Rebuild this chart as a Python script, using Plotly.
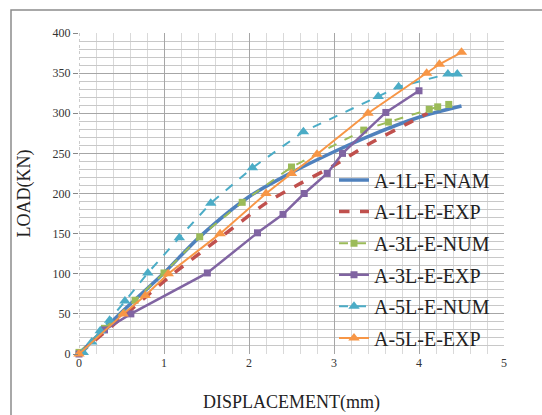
import plotly.graph_objects as go

# ---- data ----
nam1_x = [0, 0.5, 1.0, 1.42, 2.0, 2.5, 3.0, 3.4, 4.0, 4.5]
nam1_y = [0, 52, 101, 146, 196, 226, 252, 271, 295, 309]

exp1_x = [0, 0.5, 1.05, 1.7, 2.2, 2.56, 3.0, 3.4, 3.9, 4.1]
exp1_y = [0, 45, 95, 148, 188, 210, 235, 261, 289, 300]

num3_x = [0, 0.3, 0.66, 1.0, 1.42, 1.92, 2.5, 3.35, 3.64, 4.12, 4.22, 4.35]
num3_y = [2, 32, 67, 101, 146, 189, 233, 279, 289, 305, 308, 311]

exp3_x = [0, 0.3, 0.61, 1.51, 2.1, 2.4, 2.65, 2.92, 3.1, 3.61, 4.0]
exp3_y = [0, 30, 50, 101, 151, 174, 200, 225, 250, 301, 328]

num5_x = [0.05, 0.15, 0.25, 0.36, 0.54, 0.81, 1.18, 1.55, 2.04, 2.64, 3.52, 3.76, 4.34, 4.45]
num5_y = [2, 15, 29, 42, 66, 101, 145, 188, 232, 277, 321, 333, 349, 349]

exp5_x = [0, 0.52, 0.78, 1.05, 1.66, 2.2, 2.5, 2.8, 3.4, 4.09, 4.24, 4.5]
exp5_y = [0, 50, 73, 100, 150, 200, 225, 249, 300, 350, 361, 376]

names = ["A-1L-E-NAM", "A-1L-E-EXP", "A-3L-E-NUM", "A-3L-E-EXP", "A-5L-E-NUM", "A-5L-E-EXP"]

y_tickvals = [0, 50, 100, 150, 200, 250, 300, 350, 400]
y_ticktext = ["0", "50", "100", "150", "200", "250", "300", "350", "400"]
x_tickvals = [0, 1, 2, 3, 4, 5]
x_ticktext = ["0", "1", "2", "3", "4", "5"]

# ---- figure ----
fig = go.Figure()

def add(x, y, name, color, width, dash, symbol=None, msize=0, shape="linear"):
    mode = "lines+markers" if symbol else "lines"
    fig.add_trace(go.Scatter(
        x=x, y=y, name=name, mode=mode, legendgroup=name,
        line=dict(color=color, width=width, dash=dash, shape=shape, smoothing=0.8),
        marker=dict(symbol=symbol or "circle", size=msize, color=color),
        cliponaxis=False,
    ))

add(nam1_x, nam1_y, names[0], "#4F81BD", 3.5, "solid", shape="spline")
add(exp1_x, exp1_y, names[1], "#C0504D", 3.5, "dash", shape="spline")
add(num3_x, num3_y, names[2], "#9BBB59", 2, "dash", "square", 7)
add(exp3_x, exp3_y, names[3], "#8064A2", 2.5, "solid", "square", 7)
add(num5_x, num5_y, names[4], "#4BACC6", 2, "dash", "triangle-up", 10)
add(exp5_x, exp5_y, names[5], "#F79646", 2, "solid", "triangle-up", 10)

serif = "Liberation Serif"

fig.update_layout(
    width=542, height=415,
    margin=dict(l=79, r=38, t=33, b=61),
    paper_bgcolor="white", plot_bgcolor="white",
    showlegend=True,
    legend=dict(
        x=0.6, y=0.603, xanchor="left", yanchor="top",
        bgcolor="rgba(0,0,0,0)",
        font=dict(family=serif, size=20, color="#222222"),
        tracegroupgap=2.6,
        traceorder="grouped",
    ),
    xaxis=dict(
        range=[0, 5], tickvals=x_tickvals, ticktext=x_ticktext,
        showgrid=True, gridcolor="#a6a6a6", gridwidth=1,
        minor=dict(dtick=0.2, showgrid=True, gridcolor="#d9d9d9", gridwidth=1),
        zeroline=False, showline=False, ticks="", automargin=False,
        tickfont=dict(family=serif, size=12, color="#333333"),
        title=dict(text="DISPLACEMENT(mm)", font=dict(family=serif, size=18, color="#222222"),
                   standoff=26),
    ),
    yaxis=dict(
        range=[0, 400], tickvals=y_tickvals, ticktext=y_ticktext,
        showgrid=True, gridcolor="#a6a6a6", gridwidth=1,
        minor=dict(dtick=10, showgrid=True, gridcolor="#c8c8c8", gridwidth=1),
        zeroline=False, showline=False, automargin=False,
        ticks="outside", ticklen=5, tickcolor="#888888",
        tickfont=dict(family=serif, size=12, color="#333333"),
        title=dict(text="LOAD(KN)", font=dict(family=serif, size=18, color="#222222"),
                   standoff=17),
    ),
)

# dotted vertical axis line at x = 0
fig.add_shape(type="line", xref="x", yref="paper", x0=0, x1=0, y0=0, y1=1,
              line=dict(color="#9a9a9a", width=1, dash="dot"), layer="below")

# outer chart frame
fig.add_shape(type="rect", xref="paper", yref="paper",
              x0=-68/425, x1=1.2, y0=-0.3, y1=1 + 23/321,
              line=dict(color="#8c8c8c", width=1.5), layer="below")

fig.write_html("out.html")
